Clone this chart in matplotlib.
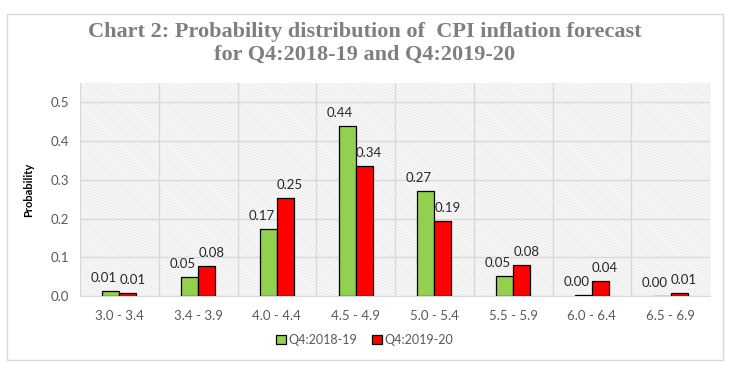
import numpy as np
import matplotlib
matplotlib.use("Agg")
from matplotlib import pyplot as plt
from matplotlib.patches import Rectangle

# Data
ranges = ['3.0 - 3.4', '3.4 - 3.9', '4.0 - 4.4', '4.5 - 4.9',
          '5.0 - 5.4', '5.5 - 5.9', '6.0 - 6.4', '6.5 - 6.9']
q4_2018_19 = [0.013, 0.048, 0.174, 0.440, 0.270, 0.052, 0.002, 0.001]
q4_2019_20 = [0.008, 0.077, 0.254, 0.336, 0.193, 0.080, 0.040, 0.008]
series_names = ['Q4:2018-19', 'Q4:2019-20']

plt.rcParams['font.family'] = ['Lato', 'DejaVu Sans']
plt.rcParams['hatch.color'] = '#e4e4e4'
plt.rcParams['hatch.linewidth'] = 0.6

fig = plt.figure(figsize=(7.29, 3.73), dpi=100)
ax = fig.add_axes([80/729, 1 - 296/373, 630/729, 213/373])

# outer chart border
fig.patches.append(Rectangle((7/729, 1 - 360/373), 716/729, 346/373, transform=fig.transFigure,
                             fill=False, edgecolor='#d9d9d9', linewidth=1))

# hatched plot area
ax.patch.set_facecolor('white')
ax.patch.set_hatch('\\' * 12)
ax.patch.set_edgecolor('#e4e4e4')

x = np.arange(len(ranges))
w = 0.216
b1 = ax.bar(x - w/2, q4_2018_19, w, color='#92D050', edgecolor='black', linewidth=0.9,
            label=series_names[0], zorder=3)
b2 = ax.bar(x + w/2, q4_2019_20, w, color='#FF0000', edgecolor='black', linewidth=0.9,
            label=series_names[1], zorder=3)

# data labels, nudged apart a little like the original
for bars, dx in ((b1, -0.09), (b2, 0.06)):
    for rect in bars:
        h = rect.get_height()
        ax.text(rect.get_x() + rect.get_width()/2 + dx, h + 0.018, '{:.2f}'.format(h),
                ha='center', va='bottom', fontsize=9.5, color='#262626', zorder=4)

ax.set_xlim(-0.5, len(ranges) - 0.5)
ax.set_ylim(0, 0.55)
ax.set_yticks(np.arange(0, 0.51, 0.1))
ax.set_yticklabels(['{:.1f}'.format(v) for v in np.arange(0, 0.51, 0.1)])
ax.set_xticks(x)
ax.set_xticklabels(ranges)
ax.set_xticks(np.arange(-0.5, len(ranges)), minor=True)
ax.tick_params(axis='both', which='both', length=0, labelsize=9.5, colors='#595959')
ax.tick_params(axis='y', pad=8)
ax.tick_params(axis='x', pad=10)
ax.grid(axis='y', which='major', color='#d9d9d9', linewidth=1, zorder=1)
ax.grid(axis='x', which='minor', color='#d9d9d9', linewidth=1, zorder=1)
ax.set_axisbelow(True)
for s in ['top', 'right', 'left']:
    ax.spines[s].set_visible(False)
ax.spines['bottom'].set_color('#d9d9d9')

ax.set_ylabel('Probability', fontsize=8, fontweight='bold', color='black', labelpad=12)

fig.text(0.5, 1 - 43/373, 'Chart 2: Probability distribution of  CPI inflation forecast\nfor Q4:2018-19 and Q4:2019-20',
         ha='center', va='center', fontsize=16, fontweight='bold', color='#7f7f7f',
         family=['Liberation Serif'], linespacing=1.2)

fig.legend(loc='center', bbox_to_anchor=(0.5, 1 - 340/373), ncol=2, frameon=False,
           fontsize=9, handlelength=0.8, handleheight=0.8, handletextpad=0.2, columnspacing=1.2,
           labelcolor='#595959')

fig.savefig('out.png', dpi=100)
